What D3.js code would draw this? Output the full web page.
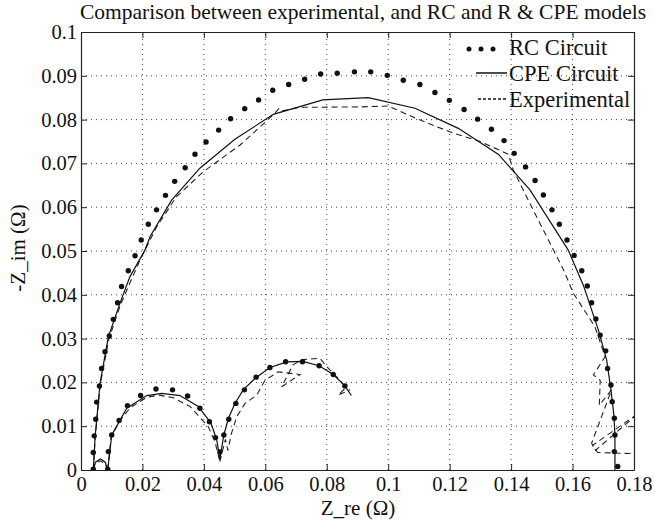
<!DOCTYPE html>
<html>
<head>
<meta charset="utf-8">
<script src="https://cdn.jsdelivr.net/npm/d3@7/dist/d3.min.js"></script>
<style>
  html, body { margin: 0; padding: 0; background: #fff; }
</style>
</head>
<body>
<svg id="chart" width="655" height="520"></svg>
<script>
// ---------------- DATA ----------------
const titleText = "Comparison between experimental, and RC and R & CPE models";
const xLabel = "Z_re (\u03A9)";
const yLabel = "-Z_im (\u03A9)";
const xTicks = [0, 0.02, 0.04, 0.06, 0.08, 0.1, 0.12, 0.14, 0.16, 0.18];
const yTicks = [0, 0.01, 0.02, 0.03, 0.04, 0.05, 0.06, 0.07, 0.08, 0.09, 0.1];
const legendNames = ["RC Circuit", "CPE Circuit", "Experimental"];

// RC circuit (dots)
const rcBig = [[0.0040,0.0002],[0.0040,0.0040],[0.0043,0.0078],[0.0048,0.0116],[0.0051,0.0155],[0.0060,0.0192],[0.0067,0.0232],[0.0078,0.0270],[0.0092,0.0306],[0.0105,0.0344],[0.0119,0.0382],[0.0132,0.0419],[0.0154,0.0455],[0.0176,0.0489],[0.0196,0.0525],[0.0219,0.0561],[0.0246,0.0594],[0.0275,0.0627],[0.0305,0.0659],[0.0339,0.0690],[0.0371,0.0721],[0.0407,0.0749],[0.0448,0.0776],[0.0487,0.0802],[0.0533,0.0825],[0.0578,0.0845],[0.0624,0.0867],[0.0676,0.0880],[0.0728,0.0892],[0.0780,0.0904],[0.0834,0.0906],[0.0890,0.0909],[0.0943,0.0909],[0.0997,0.0901],[0.1049,0.0890],[0.1103,0.0880],[0.1152,0.0862],[0.1199,0.0844],[0.1247,0.0823],[0.1291,0.0801],[0.1336,0.0778],[0.1377,0.0752],[0.1410,0.0723],[0.1447,0.0692],[0.1478,0.0661],[0.1505,0.0628],[0.1533,0.0594],[0.1557,0.0561],[0.1582,0.0525],[0.1605,0.0490],[0.1630,0.0455],[0.1648,0.0420],[0.1662,0.0382],[0.1676,0.0345],[0.1690,0.0308],[0.1708,0.0272],[0.1714,0.0232],[0.1725,0.0194],[0.1729,0.0156],[0.1736,0.0118],[0.1738,0.0080],[0.1736,0.0042],[0.1747,0.0008]];
const rcArc1 = [[0.0087,0.0002],[0.0089,0.0042],[0.0100,0.0080],[0.0124,0.0113],[0.0151,0.0147],[0.0194,0.0170],[0.0244,0.0185],[0.0298,0.0183],[0.0347,0.0169],[0.0387,0.0141],[0.0418,0.0110],[0.0438,0.0074],[0.0452,0.0041]];
const rcArc2 = [[0.0465,0.0080],[0.0481,0.0116],[0.0504,0.0152],[0.0532,0.0183],[0.0570,0.0212],[0.0615,0.0234],[0.0666,0.0247],[0.0721,0.0247],[0.0775,0.0238],[0.0821,0.0218],[0.0859,0.0192]];

// CPE circuit (solid)
const cpeBig = [[0.0040,0.0000],[0.0046,0.0076],[0.0062,0.0198],[0.0089,0.0304],[0.0127,0.0381],[0.0159,0.0441],[0.0208,0.0502],[0.0225,0.0533],[0.0295,0.0616],[0.0387,0.0689],[0.0501,0.0755],[0.0626,0.0812],[0.0787,0.0845],[0.0935,0.0850],[0.1087,0.0826],[0.1228,0.0780],[0.1358,0.0721],[0.1462,0.0639],[0.1527,0.0567],[0.1586,0.0502],[0.1635,0.0422],[0.1684,0.0320],[0.1711,0.0251],[0.1725,0.0183],[0.1735,0.0122],[0.1738,0.0076],[0.1738,0.0000]];
const cpeTiny = [[0.0040,0.0000],[0.0047,0.0018],[0.0063,0.0025],[0.0079,0.0018],[0.0087,0.0000]];
const cpeArc1 = [[0.0087,0.0000],[0.0100,0.0080],[0.0149,0.0141],[0.0214,0.0170],[0.0263,0.0175],[0.0322,0.0170],[0.0382,0.0145],[0.0423,0.0107],[0.0442,0.0068],[0.0452,0.0025]];
const cpeArc2 = [[0.0452,0.0025],[0.0465,0.0080],[0.0480,0.0118],[0.0501,0.0152],[0.0528,0.0183],[0.0566,0.0209],[0.0615,0.0234],[0.0670,0.0247],[0.0721,0.0248],[0.0775,0.0238],[0.0821,0.0218],[0.0859,0.0192],[0.0880,0.0170]];

// Experimental (dashed)
const expBig = [[0.0040,0.0000],[0.0046,0.0074],[0.0063,0.0196],[0.0091,0.0300],[0.0129,0.0378],[0.0166,0.0438],[0.0192,0.0479],[0.0246,0.0555],[0.0311,0.0624],[0.0398,0.0681],[0.0518,0.0742],[0.0626,0.0811],[0.0645,0.0826],[0.0655,0.0820],[0.0713,0.0828],[0.0908,0.0829],[0.1000,0.0831],[0.1100,0.0800],[0.1212,0.0769],[0.1299,0.0750],[0.1391,0.0721],[0.1407,0.0685],[0.1483,0.0578],[0.1570,0.0458],[0.1603,0.0403],[0.1673,0.0327],[0.1706,0.0259],[0.1668,0.0217],[0.1690,0.0205],[0.1687,0.0148],[0.1727,0.0183],[0.1662,0.0061],[0.1675,0.0045],[0.1815,0.0130],[0.1665,0.0056],[0.1682,0.0040],[0.1815,0.0037]];
const expTiny = [[0.0040,0.0000],[0.0046,0.0015],[0.0062,0.0021],[0.0078,0.0015],[0.0087,0.0000]];
const expArc1 = [[0.0087,0.0000],[0.0098,0.0075],[0.0124,0.0110],[0.0160,0.0142],[0.0214,0.0166],[0.0255,0.0171],[0.0300,0.0165],[0.0355,0.0145],[0.0414,0.0099],[0.0436,0.0065],[0.0452,0.0019]];
const expArc2 = [[0.0452,0.0019],[0.0470,0.0070],[0.0478,0.0045],[0.0490,0.0084],[0.0507,0.0122],[0.0534,0.0152],[0.0572,0.0171],[0.0599,0.0205],[0.0642,0.0224],[0.0713,0.0218],[0.0653,0.0190],[0.0690,0.0240],[0.0720,0.0252],[0.0778,0.0255],[0.0800,0.0236],[0.0843,0.0205],[0.0862,0.0188],[0.0837,0.0171],[0.0876,0.0183]];

// ---------------- CHART ----------------
const FONT = "'Liberation Serif', 'Times New Roman', 'DejaVu Serif', serif";
const svg = d3.select("#chart");
const L = 81, R = 634, T = 32, B = 470;
const x = d3.scaleLinear().domain([0, 0.18]).range([L, R]);
const y = d3.scaleLinear().domain([0, 0.1]).range([B, T]);
const fmt = d => d === 0 ? "0" : String(+d.toFixed(2));

svg.append("defs").append("clipPath").attr("id", "clip")
  .append("rect").attr("x", L).attr("y", T).attr("width", R - L).attr("height", B - T);

// grid
const grid = svg.append("g");
grid.selectAll(".gx").data(xTicks.slice(1, -1)).enter().append("line")
  .attr("x1", d => x(d)).attr("x2", d => x(d)).attr("y1", B).attr("y2", T)
  .attr("stroke", "#444").attr("stroke-width", 1).attr("stroke-dasharray", "1,4");
grid.selectAll(".gy").data(yTicks.slice(1, -1)).enter().append("line")
  .attr("y1", d => y(d)).attr("y2", d => y(d)).attr("x1", L).attr("x2", R)
  .attr("stroke", "#444").attr("stroke-width", 1).attr("stroke-dasharray", "1,4");

// axes (inward ticks, box on)
const tickFont = 20.5;
const axB = svg.append("g").attr("transform", `translate(0,${B})`)
  .call(d3.axisBottom(x).tickValues(xTicks).tickFormat(fmt).tickSizeInner(-6).tickSizeOuter(0).tickPadding(6));
const axT = svg.append("g").attr("transform", `translate(0,${T})`)
  .call(d3.axisTop(x).tickValues(xTicks).tickFormat("").tickSizeInner(-6).tickSizeOuter(0));
const axL = svg.append("g").attr("transform", `translate(${L},0)`)
  .call(d3.axisLeft(y).tickValues(yTicks).tickFormat(fmt).tickSizeInner(-6).tickSizeOuter(0).tickPadding(4));
const axR = svg.append("g").attr("transform", `translate(${R},0)`)
  .call(d3.axisRight(y).tickValues(yTicks).tickFormat("").tickSizeInner(-6).tickSizeOuter(0));
[axB, axT, axL, axR].forEach(a => {
  a.select(".domain").attr("stroke", "#222").attr("stroke-width", 1.2);
  a.selectAll(".tick line").attr("stroke", "#222");
  a.selectAll("text").style("font-family", FONT).style("font-size", tickFont + "px").style("fill", "#111");
});
axB.selectAll(".tick text").attr("dy", "0.71em");

// series
const line = d3.line().x(d => x(d[0])).y(d => y(d[1]));
const plot = svg.append("g").attr("clip-path", "url(#clip)");
[expBig, expTiny, expArc1, expArc2].forEach(s => {
  plot.append("path").attr("d", line(s)).attr("fill", "none")
    .attr("stroke", "#222").attr("stroke-width", 1.1).attr("stroke-dasharray", "6,4");
});
[cpeBig, cpeTiny, cpeArc1, cpeArc2].forEach(s => {
  plot.append("path").attr("d", line(s)).attr("fill", "none")
    .attr("stroke", "#111").attr("stroke-width", 1.2);
});
[rcBig, rcArc1, rcArc2].forEach(s => {
  plot.selectAll(null).data(s).enter().append("circle")
    .attr("cx", d => x(d[0])).attr("cy", d => y(d[1])).attr("r", 2.7).attr("fill", "#111");
});

// legend
const lg = svg.append("g");
const legY = [47, 73, 99];
const legFont = 22.5;
legendNames.forEach((n, i) => {
  lg.append("text").attr("x", 509).attr("y", legY[i]).attr("dy", "0.35em")
    .style("font-family", FONT).style("font-size", legFont + "px").style("fill", "#111").text(n);
});
[469, 481, 493].forEach(cx => lg.append("circle").attr("cx", cx).attr("cy", legY[0] + 2).attr("r", 2.5).attr("fill", "#111"));
lg.append("line").attr("x1", 476).attr("x2", 507).attr("y1", legY[1]).attr("y2", legY[1]).attr("stroke", "#111").attr("stroke-width", 1.5);
lg.append("line").attr("x1", 478).attr("x2", 507).attr("y1", legY[2]).attr("y2", legY[2]).attr("stroke", "#111").attr("stroke-width", 1.3).attr("stroke-dasharray", "3,2");

// title & labels
svg.append("text").attr("x", 363).attr("y", 19).attr("text-anchor", "middle")
  .style("font-family", FONT).style("font-size", "21.5px").style("fill", "#111").text(titleText);
svg.append("text").attr("x", 358).attr("y", 515).attr("text-anchor", "middle")
  .style("font-family", FONT).style("font-size", "21px").style("fill", "#111").text(xLabel);
svg.append("text").attr("transform", "translate(25,248) rotate(-90)").attr("text-anchor", "middle")
  .style("font-family", FONT).style("font-size", "21px").style("fill", "#111").text(yLabel);
</script>
</body>
</html>
